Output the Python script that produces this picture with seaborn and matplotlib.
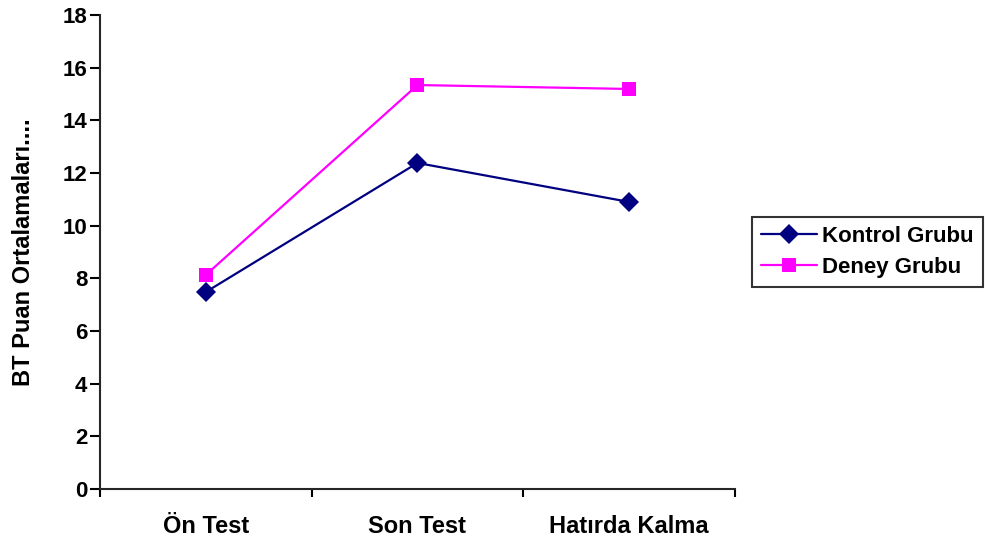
import matplotlib.pyplot as plt
import seaborn as sns
import pandas as pd
from matplotlib.ticker import FixedLocator

sns.set_style("ticks")
plt.rcParams['font.family'] = ['Liberation Sans', 'DejaVu Sans']
plt.rcParams['font.weight'] = 'bold'
plt.rcParams['text.color'] = 'black'
plt.rcParams['xtick.color'] = 'black'
plt.rcParams['ytick.color'] = 'black'
plt.rcParams['axes.labelcolor'] = 'black'

# Data
phases = ['Ön Test', 'Son Test', 'Hatırda Kalma']
kontrol = [7.48, 12.38, 10.9]
deney = [8.13, 15.34, 15.19]

df = pd.DataFrame({
    'phase': phases * 2,
    'score': kontrol + deney,
    'group': ['Kontrol Grubu'] * 3 + ['Deney Grubu'] * 3,
})

fig = plt.figure(figsize=(9.85, 5.39), dpi=100)
ax = fig.add_axes([0.1015, 0.0928, 0.6447, 0.8794])

sns.lineplot(data=df, x='phase', y='score', hue='group', style='group',
             markers={'Kontrol Grubu': 'D', 'Deney Grubu': 's'}, dashes=False,
             palette={'Kontrol Grubu': '#000080', 'Deney Grubu': '#FF00FF'},
             markersize=10, linewidth=1.6, markeredgewidth=0, ax=ax, sort=False)

ax.set_xlim(-0.5, 2.5)
ax.set_ylim(0, 18)
ax.set_yticks(range(0, 19, 2))
ax.set_xticks(range(3))
ax.set_xticklabels(phases)
ax.xaxis.set_minor_locator(FixedLocator([-0.5, 0.5, 1.5, 2.5]))
ax.tick_params(axis='x', which='major', length=0, pad=19, labelsize=17)
ax.tick_params(axis='x', which='minor', length=6, width=1.5, direction='out')
ax.tick_params(axis='y', length=7, width=1.5, direction='out', labelsize=16, pad=2)
sns.despine(ax=ax)
for s in ax.spines.values():
    s.set_linewidth(1.5)
ax.set_xlabel('')
ax.set_ylabel('BT Puan Ortalamaları....', fontsize=17, fontweight='bold', labelpad=20)

leg = ax.legend(loc='center left', bbox_to_anchor=(1.027, 0.5), frameon=True,
                fancybox=False, edgecolor='black', fontsize=16, handlelength=2.5,
                borderpad=0.4, labelspacing=0.45, handletextpad=0.25, borderaxespad=0)
leg.get_frame().set_linewidth(1.5)

fig.savefig('out.png', dpi=100)
